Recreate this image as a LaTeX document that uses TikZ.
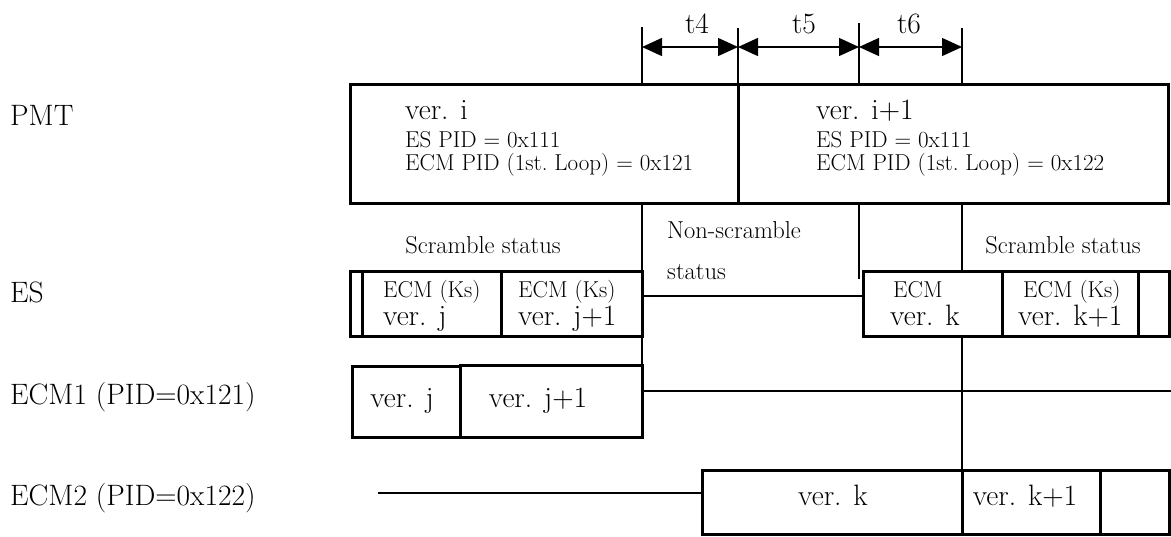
\documentclass[tikz,border=0pt]{standalone}
\usetikzlibrary{arrows.meta}
\begin{document}
\begin{tikzpicture}[x=1pt,y=-1pt,
  box/.style={draw, line width=3pt, inner sep=0pt, outer sep=0pt, anchor=north west},
  thinline/.style={line width=1.4pt},
  big/.style={font=\fontsize{29.5}{33}\selectfont, inner sep=0pt},
  small/.style={font=\fontsize{23}{27}\selectfont, inner sep=0pt},
  mid/.style={font=\fontsize{24.5}{28}\selectfont, inner sep=0pt},
  dim/.style={thinline, {Triangle[length=20pt,width=18pt]}-{Triangle[length=20pt,width=18pt]}}
]
\useasboundingbox (0,0) rectangle (1171,536);

% ---- row labels
\node[big, anchor=base west] (lpmt) at (10,125) {PMT};
\node[big, anchor=base west] (les)  at (10,302) {ES};
\node[big, anchor=base west] (lecm1) at (10,404) {ECM1 (PID=0x121)};
\node[big, anchor=base west] (lecm2) at (10,505) {ECM2 (PID=0x122)};

% ---- PMT versions
\node[box, minimum width=388pt, minimum height=119pt] (pmtL) at (350,84) {};
\node[box, minimum width=430pt, minimum height=119pt] (pmtR) at (738,84) {};
\node[big,   anchor=base west] (pmtLa) at (405,119) {ver. i};
\node[small, anchor=base west] (pmtLb) at (405,147) {ES PID = 0x111};
\node[small, anchor=base west] (pmtLc) at (405,170) {ECM PID (1st.\ Loop) = 0x121};
\node[big,   anchor=base west] (pmtRa) at (816,119) {ver. i+1};
\node[small, anchor=base west] (pmtRb) at (816,147) {ES PID = 0x111};
\node[small, anchor=base west] (pmtRc) at (816,170) {ECM PID (1st.\ Loop) = 0x122};

% ---- ES packets
\node[box, minimum width=12pt,  minimum height=65pt] (es0)  at (350,271) {};
\node[box, minimum width=139pt, minimum height=65pt] (esJ)  at (362,271) {};
\node[box, minimum width=141pt, minimum height=65pt] (esJ1) at (501,271) {};
\node[box, minimum width=139pt, minimum height=65pt] (esK)  at (863,271) {};
\node[box, minimum width=136pt, minimum height=65pt] (esK1) at (1002,271) {};
\node[box, minimum width=31pt,  minimum height=65pt] (esN)  at (1138,271) {};
\node[small, anchor=base west] (esJa)  at (383,297) {ECM (Ks)};
\node[big,   anchor=base west] (esJb)  at (383,325) {ver. j};
\node[small, anchor=base west] (esJ1a) at (518,297) {ECM (Ks)};
\node[big,   anchor=base west] (esJ1b) at (518,325) {ver. j+1};
\node[small, anchor=base west] (esKa)  at (893,297) {ECM};
\node[big,   anchor=base west] (esKb)  at (890,325) {ver. k};
\node[small, anchor=base west] (esK1a) at (1023,297) {ECM (Ks)};
\node[big,   anchor=base west] (esK1b) at (1018,325) {ver. k+1};

\node[mid, anchor=base] (scrA) at (483,253) {Scramble status};
\node[mid, anchor=base] (scrB) at (1063,253) {Scramble status};
\node[mid, anchor=base west] (nsA) at (667,238) {Non-scramble};
\node[mid, anchor=base west] (nsB) at (667,279) {status};

% ---- ECM1 stream
\node[box, minimum width=108pt, minimum height=71pt] (e1J)  at (352,366) {};
\node[box, minimum width=182pt, minimum height=72pt] (e1J1) at (460,365) {};
\node[big, anchor=base] (e1Jt)  at (402,407) {ver. j};
\node[big, anchor=base] (e1J1t) at (538,407) {ver. j+1};

% ---- ECM2 stream
\node[box, minimum width=260pt, minimum height=64pt] (e2K)  at (702,470) {};
\node[box, minimum width=138pt, minimum height=64pt] (e2K1) at (962,470) {};
\node[box, minimum width=69pt,  minimum height=64pt] (e2N)  at (1100,470) {};
\node[big, anchor=base] (e2Kt)  at (833,505) {ver. k};
\node[big, anchor=base] (e2K1t) at (1025,505) {ver. k+1};

% ---- timing marks
\coordinate (tA) at (642,27);
\coordinate (tB) at (738,28);
\coordinate (tC) at (859,23);
\coordinate (tD) at (962,28);
\draw[thinline] (tA) -- (tA |- pmtL.north);
\draw[thinline] (tB) -- (pmtL.north east);
\draw[thinline] (tC) -- (tC |- pmtR.north);
\draw[thinline] (tD) -- (tD |- pmtR.north);

\coordinate (aA) at (642,47);
\coordinate (aB) at (738,47);
\coordinate (aC) at (859,47);
\coordinate (aD) at (962,47);
\draw[dim] (aA) -- (aB);
\draw[dim] (aB) -- (aC);
\draw[dim] (aC) -- (aD);
\node[big, anchor=base] (t4) at (697,33) {t4};
\node[big, anchor=base] (t5) at (804,33) {t5};
\node[big, anchor=base] (t6) at (909,33) {t6};

% ---- vertical guides below the PMT
\coordinate (cEnd) at (859,279);
\draw[thinline] (tA |- pmtL.south) -- (e1J1.north east);
\draw[thinline] (tC |- pmtR.south) -- (cEnd);
\draw[thinline] (tD |- pmtR.south) -- (tD |- esK.north);
\draw[thinline] (tD |- esK.south) -- (e2K.north east);

% ---- idle stream lines
\coordinate (nsL) at (642,296);
\draw[thinline] (nsL) -- (nsL -| esK.west);
\coordinate (e1L) at (642,391);
\coordinate (e1R) at (1171,391);
\draw[thinline] (e1L) -- (e1R);
\coordinate (e2L) at (378,493);
\draw[thinline] (e2L) -- (e2L -| e2K.west);
\end{tikzpicture}
\end{document}
